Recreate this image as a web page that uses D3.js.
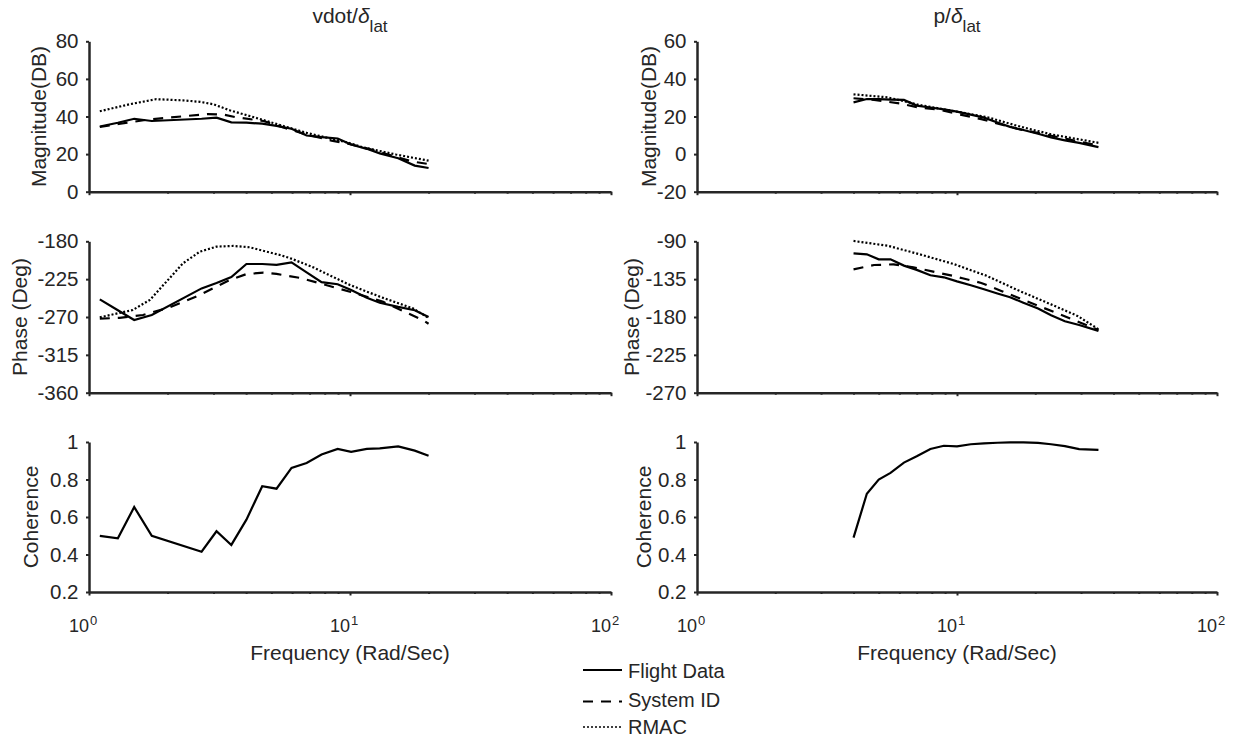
<!DOCTYPE html>
<html>
<head>
<meta charset="utf-8">
<script src="https://cdn.jsdelivr.net/npm/d3@7"></script>
<style>
  body { margin: 0; background: #fff; }
  text { font-family: "Liberation Sans", Arial, sans-serif; fill: #262626; }
</style>
</head>
<body>
<svg id="chart" width="1244" height="742"></svg>
<script>
'use strict';

// ---- vdot / delta_lat (left column) ----
const vdotFlightFreq  = [1.1, 1.29, 1.49, 1.74, 2.7, 3.08, 3.51, 4.01, 4.61, 5.23, 5.97, 6.82, 7.78, 8.97, 10.1, 11.6, 13.0, 15.3, 17.7, 20];
const vdotFlightMag   = [34.7, 36.7, 38.8, 37.6, 38.8, 39.4, 36.9, 36.7, 36.2, 35.0, 33.5, 29.9, 29.0, 28.3, 25.1, 22.8, 20.4, 17.8, 13.9, 12.6];
const vdotFlightPhase = [-249, -262, -273.5, -267.6, -236, -229.5, -222.5, -207, -207, -208, -205, -217, -228.5, -231, -238, -247, -253, -258, -262, -270];
const vdotFlightCoh   = [0.499, 0.486, 0.653, 0.500, 0.415, 0.524, 0.451, 0.586, 0.764, 0.751, 0.862, 0.888, 0.933, 0.963, 0.947, 0.963, 0.966, 0.977, 0.954, 0.927];

const vdotSysIdMagFreq   = [1.1, 1.3, 1.5, 1.71, 2.0, 2.29, 2.86, 3.3, 3.63, 4.66, 5.9, 7.0, 8.5, 10, 12, 15, 17.4, 20];
const vdotSysIdMag       = [34.4, 36.0, 37.3, 38.5, 39.3, 40.1, 41.3, 40.9, 39.7, 37.6, 33.0, 30.0, 27.2, 25.3, 22.5, 18.5, 16.0, 14.7];
const vdotSysIdPhaseFreq = [1.1, 1.31, 1.61, 2.04, 2.66, 3.46, 4.01, 4.66, 5.23, 6.43, 7.67, 10, 13.4, 15.5, 19.1, 20];
const vdotSysIdPhase     = [-272, -271, -267.6, -258.5, -243.8, -226, -219, -217.3, -218.8, -223.5, -230, -239.9, -252, -261, -274, -278];

const vdotRmacMagFreq   = [1.1, 1.43, 1.81, 2.29, 2.66, 3.0, 3.46, 4.26, 5.89, 6.82, 10, 11.2, 15, 20];
const vdotRmacMag       = [42.8, 46.5, 49.2, 48.6, 47.8, 46.5, 43.3, 39.7, 33.9, 31.3, 25.8, 23.6, 19.8, 16.5];
const vdotRmacPhaseFreq = [1.1, 1.47, 1.71, 1.98, 2.29, 2.66, 3.08, 3.57, 4.13, 4.79, 5.39, 5.89, 7.23, 10, 13, 17.4, 20];
const vdotRmacPhase     = [-270.4, -261.7, -249.8, -228, -206.2, -192.3, -186.3, -185.5, -187.1, -192.3, -196.3, -200, -211, -232, -245.8, -259.7, -271];

// ---- p / delta_lat (right column) ----
const pFlightFreq  = [4.0, 4.5, 5.0, 5.55, 6.25, 7.0, 7.9, 8.9, 10, 11.3, 12.7, 14.3, 16, 18, 20.5, 23, 26, 29.5, 35];
const pFlightMag   = [27.5, 29.3, 29.2, 29.0, 28.8, 25.8, 24.8, 23.8, 22.6, 21.0, 19.4, 16.8, 14.5, 12.8, 10.8, 8.9, 7.3, 6.0, 3.7];
const pFlightPhase = [-104.3, -105.5, -111.4, -111.4, -118.9, -124, -130.4, -132.8, -137.6, -142.2, -147, -152, -156.5, -163, -170, -178, -185, -189.5, -196.5];
const pFlightCoh   = [0.49, 0.724, 0.80, 0.835, 0.89, 0.924, 0.963, 0.98, 0.977, 0.988, 0.993, 0.996, 0.998, 0.998, 0.995, 0.988, 0.978, 0.962, 0.958];

const pSysIdMagFreq   = [4.0, 4.8, 6.0, 7.0, 8.6, 10.3, 12.4, 17, 25, 31, 35];
const pSysIdMag       = [29.7, 28.8, 27.0, 25.0, 23.5, 21.0, 18.6, 13.5, 8.8, 6.0, 4.6];
const pSysIdPhaseFreq = [4.0, 4.8, 5.7, 6.8, 8.1, 9.7, 10.5, 12.4, 14.8, 17, 21, 25, 29.7, 35];
const pSysIdPhase     = [-123.3, -118.2, -117.4, -121, -126.1, -131.2, -134, -139.5, -149, -156.5, -167.8, -177.2, -186.5, -195.5];

const pRmacMagFreq   = [4.0, 5.4, 7.2, 9.7, 13.1, 17.1, 23, 35];
const pRmacMag       = [31.8, 30.2, 26.1, 22.9, 19.6, 15.0, 10.5, 6.0];
const pRmacPhaseFreq = [4.0, 5.4, 7.2, 9.7, 13, 17.1, 23, 29.2, 35];
const pRmacPhase     = [-89.6, -95.2, -105.5, -117, -131, -148, -165, -179, -194.6];

// ---- ticks ----
const freqMajor = [1, 10, 100];
const freqMinor = [2, 3, 4, 5, 6, 7, 8, 9, 20, 30, 40, 50, 60, 70, 80, 90];
const vdotMagTicks = [0, 20, 40, 60, 80];
const pMagTicks = [-20, 0, 20, 40, 60];
const vdotPhaseTicks = [-360, -315, -270, -225, -180];
const pPhaseTicks = [-270, -225, -180, -135, -90];
const cohTicks = [0.2, 0.4, 0.6, 0.8, 1];

const legendNames = ["Flight Data", "System ID", "RMAC"];

const styles = {
	flight: { dash: null },
	sysid: { dash: "10,8" },
	rmac: { dash: "2,2" }
};

const svg = d3.select("#chart");
const cols = [{ x0: 89, x1: 611 }, { x0: 697, x1: 1217 }];
const rows = [{ y0: 41.3, y1: 191.7 }, { y0: 241.3, y1: 392.7 }, { y0: 442, y1: 592 }];

function drawPanel(col, row, cfg) {
	const x = d3.scaleLog().domain([1, 100]).range([col.x0, col.x1]);
	const y = d3.scaleLinear().domain(d3.extent(cfg.ticks)).range([row.y1, row.y0]);
	const g = svg.append("g");

	// x axis: minor then major ticks
	const gxMinor = g.append("g")
		.attr("transform", "translate(0," + row.y1 + ")")
		.call(d3.axisBottom(x).tickValues(freqMinor).tickSize(2).tickSizeOuter(0).tickFormat(""));
	gxMinor.select(".domain").remove();
	const gx = g.append("g")
		.attr("transform", "translate(0," + row.y1 + ")")
		.call(d3.axisBottom(x).tickValues(freqMajor).tickSize(3.5).tickSizeOuter(0).tickFormat(""));
	g.selectAll("g").attr("color", "#262626");
	g.selectAll(".tick line").attr("stroke-width", 2);
	gx.select(".domain").attr("stroke-width", 2.5);

	// y axis
	const gy = g.append("g")
		.attr("transform", "translate(" + col.x0 + ",0)")
		.attr("color", "#262626")
		.call(d3.axisLeft(y).tickValues(cfg.ticks).tickSize(3).tickSizeOuter(0).tickPadding(7.5)
			.tickFormat(d => String(d)));
	gy.select(".domain").attr("stroke-width", 2.5);
	gy.selectAll(".tick line").attr("stroke-width", 2);
	gy.selectAll(".tick text").attr("font-size", 20.5).attr("font-family", null).attr("fill", "#262626");

	// y label
	g.append("text")
		.attr("transform", "translate(" + cfg.labelX + "," + ((row.y0 + row.y1) / 2) + ") rotate(-90)")
		.attr("text-anchor", "middle")
		.attr("font-size", 21)
		.text(cfg.label);

	// curves
	const line = d3.line().x(d => x(d[0])).y(d => y(d[1]));
	cfg.series.forEach(function (s) {
		g.append("path")
			.datum(d3.zip(s.f, s.v))
			.attr("fill", "none")
			.attr("stroke", "#000")
			.attr("stroke-width", 2.2)
			.attr("stroke-dasharray", styles[s.kind].dash)
			.attr("d", line);
	});

	// frequency tick labels on bottom row
	if (cfg.xLabels) {
		freqMajor.forEach(function (v, i) {
			g.append("text")
				.attr("x", x(v))
				.attr("y", 632)
				.attr("text-anchor", "end")
				.attr("font-size", 18)
				.text("10");
			g.append("text")
				.attr("x", x(v) + 1)
				.attr("y", 625)
				.attr("font-size", 13)
				.text(String(i));
		});
		g.append("text")
			.attr("x", (col.x0 + col.x1) / 2)
			.attr("y", 660)
			.attr("text-anchor", "middle")
			.attr("font-size", 21)
			.text("Frequency (Rad/Sec)");
	}
}

// left column
drawPanel(cols[0], rows[0], {
	ticks: vdotMagTicks, label: "Magnitude(DB)", labelX: 46,
	series: [
		{ kind: "rmac", f: vdotRmacMagFreq, v: vdotRmacMag },
		{ kind: "sysid", f: vdotSysIdMagFreq, v: vdotSysIdMag },
		{ kind: "flight", f: vdotFlightFreq, v: vdotFlightMag }
	]
});
drawPanel(cols[0], rows[1], {
	ticks: vdotPhaseTicks, label: "Phase (Deg)", labelX: 27,
	series: [
		{ kind: "rmac", f: vdotRmacPhaseFreq, v: vdotRmacPhase },
		{ kind: "sysid", f: vdotSysIdPhaseFreq, v: vdotSysIdPhase },
		{ kind: "flight", f: vdotFlightFreq, v: vdotFlightPhase }
	]
});
drawPanel(cols[0], rows[2], {
	ticks: cohTicks, label: "Coherence", labelX: 38, xLabels: true,
	series: [{ kind: "flight", f: vdotFlightFreq, v: vdotFlightCoh }]
});

// right column
drawPanel(cols[1], rows[0], {
	ticks: pMagTicks, label: "Magnitude(DB)", labelX: 656,
	series: [
		{ kind: "rmac", f: pRmacMagFreq, v: pRmacMag },
		{ kind: "sysid", f: pSysIdMagFreq, v: pSysIdMag },
		{ kind: "flight", f: pFlightFreq, v: pFlightMag }
	]
});
drawPanel(cols[1], rows[1], {
	ticks: pPhaseTicks, label: "Phase (Deg)", labelX: 639,
	series: [
		{ kind: "rmac", f: pRmacPhaseFreq, v: pRmacPhase },
		{ kind: "sysid", f: pSysIdPhaseFreq, v: pSysIdPhase },
		{ kind: "flight", f: pFlightFreq, v: pFlightPhase }
	]
});
drawPanel(cols[1], rows[2], {
	ticks: cohTicks, label: "Coherence", labelX: 651, xLabels: true,
	series: [{ kind: "flight", f: pFlightFreq, v: pFlightCoh }]
});

// titles
function title(cx, main) {
	const t = svg.append("text")
		.attr("x", cx).attr("y", 23.3)
		.attr("text-anchor", "middle")
		.attr("font-size", 21);
	t.append("tspan").text(main);
	t.append("tspan").attr("font-style", "italic").text("\u03b4");
	t.append("tspan").attr("font-size", 17).attr("dy", 9).text("lat");
}
title(350, "vdot/");
title(957, "p/");

// legend
const legend = svg.append("g");
const legendKinds = ["flight", "sysid", "rmac"];
const legendLineY = [670, 701.5, 727];
const legendTextY = [678, 707, 734];
legendNames.forEach(function (name, i) {
	legend.append("line")
		.attr("x1", 583).attr("x2", 622)
		.attr("y1", legendLineY[i]).attr("y2", legendLineY[i])
		.attr("stroke", "#000")
		.attr("stroke-width", legendKinds[i] === "rmac" ? 1.6 : 2.2)
		.attr("stroke-dasharray", styles[legendKinds[i]].dash);
	legend.append("text")
		.attr("x", 628).attr("y", legendTextY[i])
		.attr("font-size", 20)
		.text(name);
});
</script>
</body>
</html>
